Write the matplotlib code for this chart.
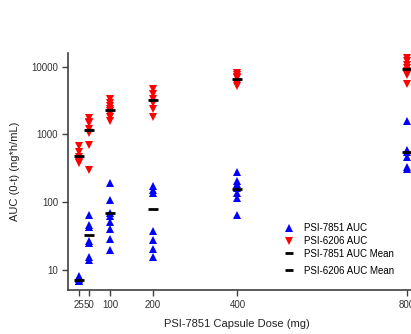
import matplotlib.pyplot as plt
import matplotlib.ticker as ticker
from matplotlib.lines import Line2D

plt.rcParams['font.family'] = ['Liberation Sans', 'DejaVu Sans']

# doses (mg)
doses = [25, 50, 100, 200, 400, 800]

# PSI-7851 AUC (0-t), individual subjects
auc_7851 = [
    [8.2, 7.8, 7.4, 7.1, 6.9],
    [66, 47, 43, 27, 25, 15.7, 14.4],
    [193, 107, 70, 64, 51.5, 40.6, 29, 19.7],
    [172, 154, 137, 37.5, 28.3, 20.8, 15.7],
    [280, 210, 190, 165, 140, 115, 66],
    [1590, 600, 560, 470, 330, 310],
]
# PSI-6206 AUC (0-t), individual subjects
auc_6206 = [
    [670, 560, 470, 430, 400, 380],
    [1740, 1550, 1470, 1210, 1050, 700, 303],
    [3300, 2900, 2600, 2400, 2200, 2000, 1800, 1600],
    [4600, 4000, 3300, 2900, 2400, 1800],
    [8000, 7400, 7000, 6700, 6000, 5500, 5100],
    [13500, 12000, 10500, 9500, 8500, 7500, 5500],
]
# means as drawn
mean_7851 = [7.3, 32.7, 71, 81, 159, 545]
mean_6206 = [487, 1145, 2310, 3190, 6590, 9250]

blue = '#0000ff'
red = '#ff0000'

fig = plt.figure(figsize=(4.11, 3.34), dpi=100)
ax = fig.add_axes([68 / 411, 43.7 / 334, 360 / 411, 237.3 / 334])

for d, vals in zip(doses, auc_7851):
    ax.plot([d] * len(vals), vals, linestyle='none', marker='^', color=blue,
            markersize=5.5, markeredgewidth=0)
for d, vals in zip(doses, auc_6206):
    ax.plot([d] * len(vals), vals, linestyle='none', marker='v', color=red,
            markersize=5.5, markeredgewidth=0)

ax.plot(doses, mean_7851, linestyle='none', marker='_', color='black',
        markersize=7, markeredgewidth=2)
ax.plot(doses, mean_6206, linestyle='none', marker='_', color='black',
        markersize=7, markeredgewidth=2)

ax.set_yscale('log')
ax.set_ylim(5.1, 15800)
ax.set_xlim(0, 850)
ax.set_xticks(doses)
ax.set_xticklabels(['25', '50', '100', '200', '400', '800'])
ax.set_yticks([10, 100, 1000, 10000])
ax.yaxis.set_major_formatter(ticker.FuncFormatter(lambda v, p: '%d' % v))
ax.yaxis.set_minor_locator(ticker.NullLocator())

for s in ['top', 'right']:
    ax.spines[s].set_visible(False)
for s in ['left', 'bottom']:
    ax.spines[s].set_color('#404040')
    ax.spines[s].set_linewidth(1.2)
ax.tick_params(direction='out', length=4, width=1, color='#404040',
               labelsize=7, labelcolor='#333333', pad=3)

ax.set_xlabel('PSI-7851 Capsule Dose (mg)', fontsize=8, color='#222222')
ax.xaxis.set_label_coords((237 - 68) / 360, -0.12)
ax.set_ylabel('AUC (0-t) (ng*h/mL)', fontsize=8, color='#222222')
ax.yaxis.set_label_coords(-48 / 360, 0.5)

# legend: three rows, then the last one a bit lower
def handle(m, c):
    return Line2D([], [], linestyle='none', marker=m, color=c,
                  markersize=5.5 if m != '_' else 6, markeredgewidth=0 if m != '_' else 2)

leg_kw = dict(loc='upper left', frameon=False, fontsize=7, handlelength=1.0,
              handletextpad=1.1, labelspacing=0.3, borderaxespad=0, borderpad=0)
leg1 = ax.legend([handle('^', blue), handle('v', red), handle('_', 'black')],
                 ['PSI-7851 AUC', 'PSI-6206 AUC', 'PSI-7851 AUC Mean'],
                 bbox_to_anchor=((284 - 68) / 360, (290.3 - 223) / 237.3), **leg_kw)
ax.add_artist(leg1)
ax.legend([handle('_', 'black')], ['PSI-6206 AUC Mean'],
          bbox_to_anchor=((284 - 68) / 360, (290.3 - 265.5) / 237.3), **leg_kw)

fig.savefig('out.png', dpi=100)
